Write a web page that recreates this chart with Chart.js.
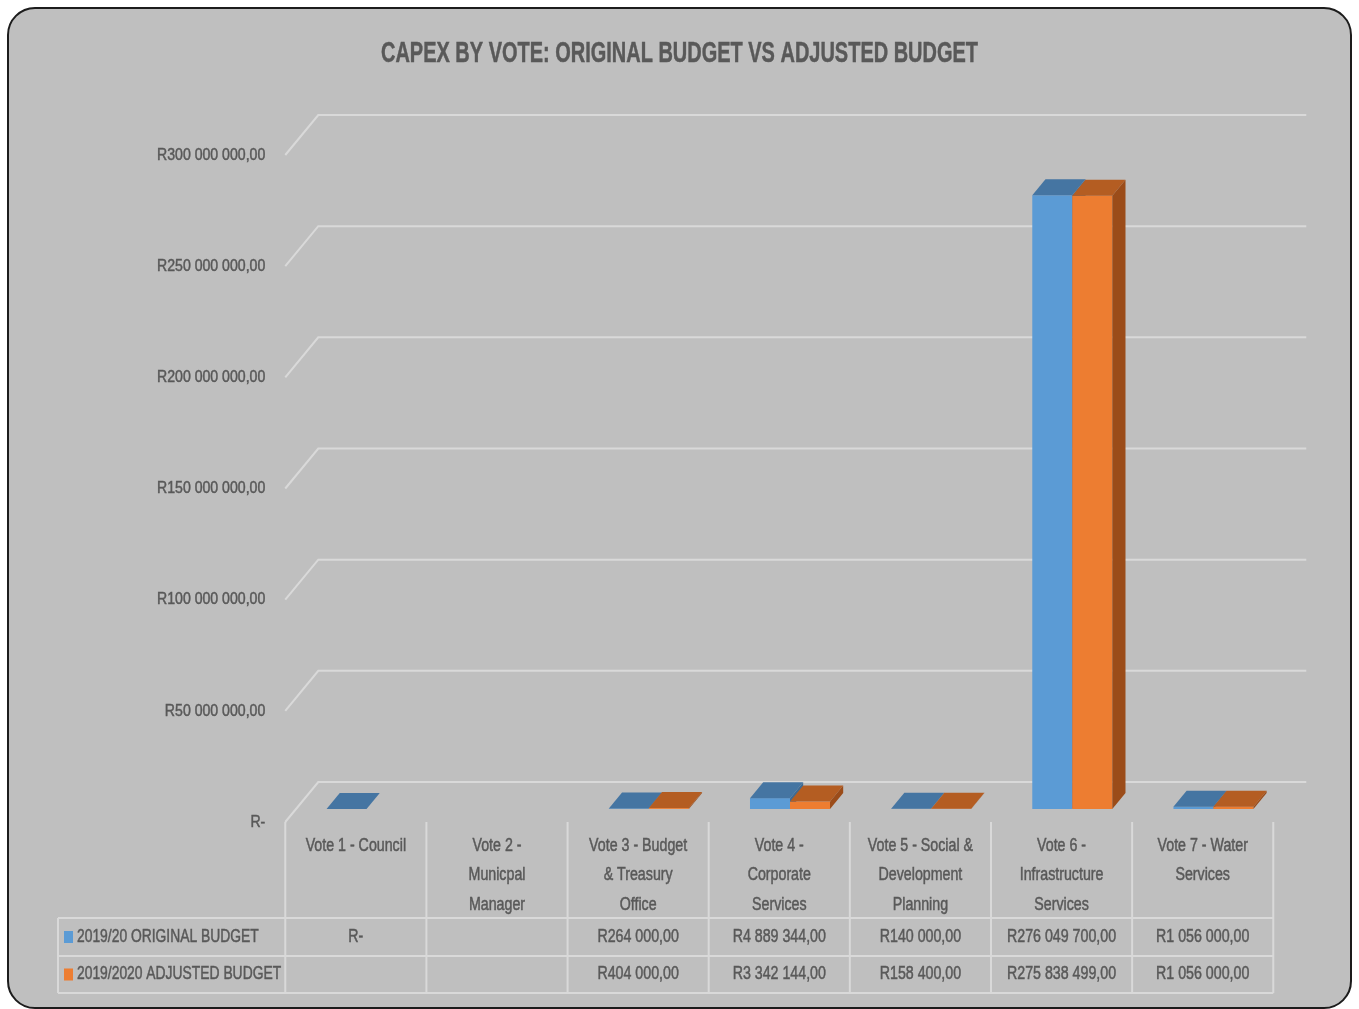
<!DOCTYPE html>
<html>
<head>
<meta charset="utf-8">
<script src="https://cdn.jsdelivr.net/npm/chart.js@4.4.1/dist/chart.umd.min.js"></script>
<style>
  html, body { margin: 0; padding: 0; background: #ffffff; }
  #wrap { position: relative; width: 1359px; height: 1009px; overflow: hidden; }
  #card {
    position: absolute; left: 7px; top: 7px; width: 1345px; height: 1002px;
    box-sizing: border-box; background: #bfbfbf;
    border: 2px solid #1c1c1c; border-radius: 28px;
  }
  #chart { position: absolute; left: 0; top: 0; }
</style>
</head>
<body>
<div id="wrap">
  <div id="card"></div>
  <canvas id="chart" width="1359" height="1009"></canvas>
</div>
<script>
'use strict';

var chartTitle = 'CAPEX BY VOTE: ORIGINAL BUDGET VS ADJUSTED BUDGET';
var voteLabels = [
  ['Vote 1 - Council'],
  ['Vote 2 -', 'Municpal', 'Manager'],
  ['Vote 3 - Budget', '& Treasury', 'Office'],
  ['Vote 4 -', 'Corporate', 'Services'],
  ['Vote 5 - Social &', 'Development', 'Planning'],
  ['Vote 6 -', 'Infrastructure', 'Services'],
  ['Vote 7 - Water', 'Services']
];
var seriesNames = ['2019/20 ORIGINAL BUDGET', '2019/2020 ADJUSTED BUDGET'];
var originalBudget = [0, null, 264000, 4889344, 140000, 276049700, 1056000];
var adjustedBudget = [null, null, 404000, 3342144, 158400, 275838499, 1056000];
var yTickValues = [0, 50000000, 100000000, 150000000, 200000000, 250000000, 300000000];

var FONT = '"Liberation Sans", Arial, sans-serif';
var TEXT = '#595959';
var GRID = '#d9d9d9';
var SQUEEZE = 0.79;      // horizontal squeeze for the condensed look of the labels
var TITLE_WIDTH = 597;

// depth of the 3d box: back wall sits this far right / up from the front plane
var DEPTH_X = 33, DEPTH_Y = 40;
var BAR_FRONT = 0.325;   // where the bar fronts sit inside the depth
var BAR_DEPTH = 0.4;     // bar thickness, share of the depth

var faces = [
  { front: '#5b9bd5', top: '#4575a2', side: '#3e6a94' },
  { front: '#ed7d31', top: '#b45d22', side: '#9b4c19' }
];

function money(v) {
  if (v === null || v === undefined) return '';
  if (v === 0) return 'R-';
  return 'R' + Math.round(v).toString().replace(/\B(?=(\d{3})+(?!\d))/g, ' ') + ',00';
}

// condensed text; a thin outline gives it a little more weight
function narrowText(ctx, text, x, y, align, squeeze) {
  ctx.save();
  ctx.translate(x, y);
  ctx.scale(squeeze || SQUEEZE, 1);
  ctx.textAlign = align;
  ctx.fillText(text, 0, 0);
  ctx.strokeStyle = ctx.fillStyle;
  ctx.lineWidth = 0.5;
  ctx.strokeText(text, 0, 0);
  ctx.restore();
}

function poly(ctx, pts, color) {
  ctx.beginPath();
  ctx.moveTo(pts[0][0], pts[0][1]);
  for (var i = 1; i < pts.length; i++) ctx.lineTo(pts[i][0], pts[i][1]);
  ctx.closePath();
  ctx.fillStyle = color;
  ctx.fill();
}

var box3d = {
  id: 'box3d',
  beforeDatasetsDraw: function (chart) {
    var ctx = chart.ctx;
    var area = chart.chartArea;
    var y = chart.scales.y;
    var fx = -BAR_FRONT * DEPTH_X, fy = BAR_FRONT * DEPTH_Y;
    var bx = (1 - BAR_FRONT) * DEPTH_X, by = -(1 - BAR_FRONT) * DEPTH_Y;

    ctx.save();
    ctx.textBaseline = 'middle';
    // title
    ctx.fillStyle = TEXT;
    ctx.font = 'bold 29px ' + FONT;
    var tw = ctx.measureText(chartTitle).width;
    narrowText(ctx, chartTitle, chart.width / 2, 54, 'center', TITLE_WIDTH / tw);

    // back wall grid with the slanted side-wall edge
    ctx.strokeStyle = GRID;
    ctx.lineWidth = 2;
    yTickValues.forEach(function (v) {
      var py = y.getPixelForValue(v);
      ctx.beginPath();
      ctx.moveTo(area.left + fx, py + fy);
      ctx.lineTo(area.left + bx, py + by);
      ctx.lineTo(area.right + bx, py + by);
      ctx.stroke();
    });

    // value axis labels on the front plane
    ctx.font = '17px ' + FONT;
    yTickValues.forEach(function (v) {
      var py = y.getPixelForValue(v);
      narrowText(ctx, money(v), area.left + fx - 20, py + fy, 'right', 0.83);
    });

    // data table under the plot
    var left = area.left + fx;
    var colW = area.width / voteLabels.length;
    var right = left + colW * voteLabels.length;
    var headTop = area.bottom + fy;
    var rowTops = [headTop + 96, headTop + 134, headTop + 171];
    var legendLeft = 58;

    ctx.strokeStyle = GRID;
    ctx.lineWidth = 2;
    ctx.beginPath();
    for (var c = 0; c <= voteLabels.length; c++) {
      ctx.moveTo(left + c * colW, headTop);
      ctx.lineTo(left + c * colW, rowTops[2]);
    }
    ctx.moveTo(legendLeft, rowTops[0]);
    ctx.lineTo(legendLeft, rowTops[2]);
    rowTops.forEach(function (ry) {
      ctx.moveTo(legendLeft, ry);
      ctx.lineTo(right, ry);
    });
    ctx.stroke();

    ctx.font = '18px ' + FONT;
    voteLabels.forEach(function (lines, i) {
      var cx = left + (i + 0.5) * colW;
      lines.forEach(function (line, k) {
        narrowText(ctx, line, cx, headTop + 24 + k * 29.5, 'center');
      });
    });

    [originalBudget, adjustedBudget].forEach(function (vals, s) {
      var cy = (rowTops[s] + rowTops[s + 1]) / 2;
      ctx.fillStyle = TEXT;
      vals.forEach(function (v, i) {
        narrowText(ctx, money(v), left + (i + 0.5) * colW, cy, 'center');
      });
      ctx.fillStyle = faces[s].front;
      ctx.fillRect(legendLeft + 6, cy - 6, 9, 12);
      ctx.fillStyle = TEXT;
      narrowText(ctx, seriesNames[s], legendLeft + 19, cy, 'left', 0.77);
    });
    ctx.restore();
  },
  afterDatasetsDraw: function (chart) {
    var ctx = chart.ctx;
    var dx = BAR_DEPTH * DEPTH_X, dy = BAR_DEPTH * DEPTH_Y;
    ctx.save();
    chart.data.datasets.forEach(function (ds, s) {
      var meta = chart.getDatasetMeta(s);
      meta.data.forEach(function (bar, i) {
        if (ds.data[i] === null) return;
        var x1 = bar.x - bar.width / 2, x2 = bar.x + bar.width / 2;
        var top = Math.min(bar.y, bar.base), base = bar.base;
        var f = faces[s];
        if (base - top > 0) {
          ctx.fillStyle = f.front;
          ctx.fillRect(x1, top, x2 - x1, base - top);
        }
        poly(ctx, [[x1, top], [x2, top], [x2 + dx, top - dy], [x1 + dx, top - dy]], f.top);
        poly(ctx, [[x2, top], [x2 + dx, top - dy], [x2 + dx, base - dy], [x2, base]], f.side);
      });
    });
    ctx.restore();
  }
};

var ctx = document.getElementById('chart').getContext('2d');
var chart = new Chart(ctx, {
  type: 'bar',
  data: {
    labels: voteLabels,
    datasets: [
      { label: seriesNames[0], data: originalBudget, backgroundColor: 'rgba(0,0,0,0)' },
      { label: seriesNames[1], data: adjustedBudget, backgroundColor: 'rgba(0,0,0,0)' }
    ]
  },
  options: {
    responsive: false,
    animation: false,
    layout: { padding: { left: 296, right: 75, top: 142, bottom: 200 } },
    datasets: { bar: { categoryPercentage: 0.567, barPercentage: 1 } },
    plugins: {
      legend: { display: false },
      title: { display: false },
      tooltip: { enabled: false }
    },
    scales: {
      x: { display: false },
      y: { display: false, min: 0, max: 300000000, ticks: { stepSize: 50000000 } }
    }
  },
  plugins: [box3d]
});
</script>
</body>
</html>
